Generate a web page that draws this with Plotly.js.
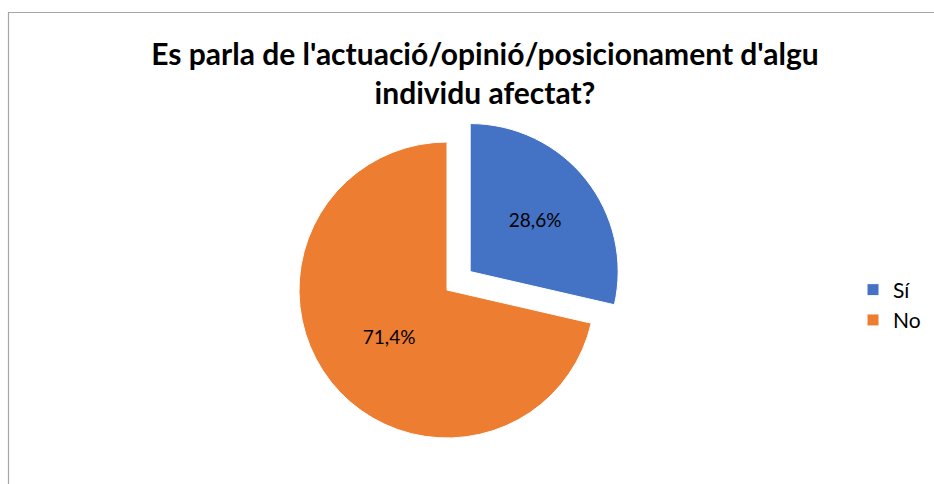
<!DOCTYPE html>
<html>
<head>
<meta charset="utf-8">
<script src="https://cdn.plot.ly/plotly-3.0.1.min.js"></script>
<style>html,body{margin:0;padding:0;background:#fff;}#chart{width:934px;height:484px;}</style>
</head>
<body>
<div id="chart"></div>
<script>
const labels = ["Sí", "No"];
const values = [28.6, 71.4];
const colors = ["#4472C4", "#ED7D31"];
const pulls = [0.2, 0];
const titleText = "Es parla de l'actuació/opinió/posicionament d'algu<br>individu afectat?";

const W = 934, H = 484;
const trace = {
  type: "pie",
  labels: labels,
  values: values,
  sort: false,
  direction: "clockwise",
  rotation: 0,
  pull: pulls,
  marker: {colors: colors, line: {color: "#ffffff", width: 1}},
  texttemplate: "%{percent:.1%}",
  textposition: "inside",
  insidetextorientation: "horizontal",
  textfont: {family: "Lato, 'Open Sans', sans-serif", size: 19, color: "#000000"},
  hoverinfo: "label+percent",
  domain: {x: [269.4 / W, 624.6 / W], y: [16.4 / H, 371.6 / H]}
};

const layout = {
  width: W, height: H,
  margin: {l: 0, r: 0, t: 0, b: 0},
  paper_bgcolor: "#ffffff",
  separators: ",.",
  title: {
    text: titleText,
    font: {family: "Lato, 'Open Sans', sans-serif", size: 30, color: "#000000", weight: "bold"},
    x: 485 / W, xanchor: "center",
    y: 1 - 65 / H, yanchor: "top",
    xref: "paper", yref: "paper"
  },
  showlegend: true,
  legend: {
    x: 853 / W, xanchor: "left",
    y: 1 - 305 / H, yanchor: "middle",
    font: {family: "Lato, 'Open Sans', sans-serif", size: 21, color: "#000000"},
    bgcolor: "rgba(0,0,0,0)"
  },
  shapes: [{
    type: "rect", xref: "paper", yref: "paper",
    x0: 8.5 / W, x1: 1.05, y0: -0.05, y1: 1 - 12.5 / H,
    line: {color: "#a6a6a6", width: 1.2}
  }]
};

Plotly.newPlot("chart", [trace], layout, {displayModeBar: false, staticPlot: true});
</script>
</body>
</html>
